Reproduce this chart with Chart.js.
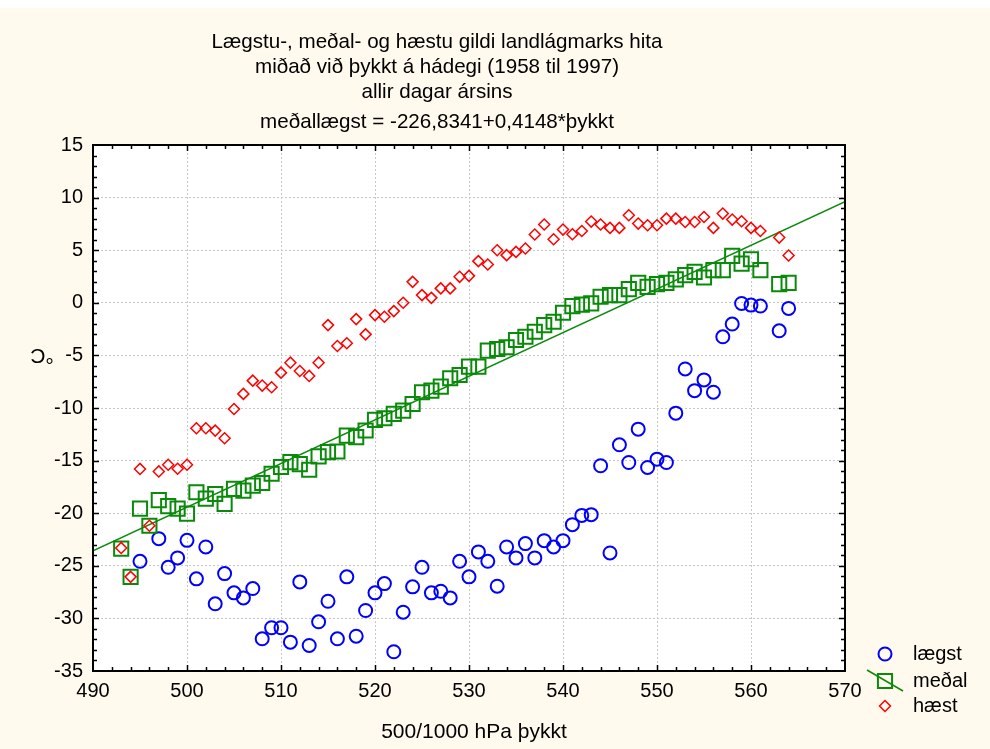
<!DOCTYPE html>
<html>
<head>
<meta charset="utf-8">
<script src="https://cdn.jsdelivr.net/npm/chart.js@4/dist/chart.umd.min.js"></script>
<style>
  body { margin: 0; background: #fff; }
  canvas { display: block; }
</style>
</head>
<body>
<canvas id="thickness-chart" width="990" height="749"></canvas>
<script>
// 500/1000 hPa þykkt (no 562)
const thickness = [493, 494, 495, 496, 497, 498, 499, 500, 501, 502, 503, 504, 505, 506, 507, 508, 509, 510,
    511, 512, 513, 514, 515, 516, 517, 518, 519, 520, 521, 522, 523, 524, 525, 526, 527, 528, 529, 530,
    531, 532, 533, 534, 535, 536, 537, 538, 539, 540, 541, 542, 543, 544, 545, 546, 547, 548, 549, 550,
    551, 552, 553, 554, 555, 556, 557, 558, 559, 560, 561, 563, 564];

const lowest = [null, null, -24.57, null, -22.42, -25.14, -24.25, -22.58, -26.24, -23.21, -28.61, -25.74, -27.57, -28.05, -27.16, -31.94, -30.89, -30.89,
    -32.26, -26.53, -32.57, -30.32, -28.37, -31.94, -26.05, -31.69, -29.25, -27.57, -26.69, -33.17, -29.41, -27.00, -25.14, -27.57, -27.42, -28.05, -24.57, -26.05,
    -23.68, -24.57, -26.94, -23.21, -24.25, -22.89, -24.25, -22.61, -23.21, -22.61, -21.09, -20.21, -20.14, -15.49, -23.78, -13.50, -15.18, -12.01, -15.65, -14.86,
    -15.18, -10.49, -6.29, -8.35, -7.33, -8.50, -3.23, -2.02, -0.06, -0.22, -0.31, -2.66, -0.53];

const mean = [-23.37, -26.05, -19.57, -21.19, -18.76, -19.33, -19.57, -20.04, -18.01, -18.61, -18.17, -19.12, -17.69, -17.86, -17.38, -17.13, -16.25, -15.61,
    -15.14, -15.33, -15.87, -14.60, -14.19, -14.14, -12.62, -12.77, -12.14, -11.13, -10.97, -10.56, -10.25, -9.62, -8.50, -8.35, -7.97, -7.17, -6.86, -6.07,
    -6.07, -4.55, -4.39, -4.23, -3.54, -3.23, -2.75, -2.12, -1.80, -0.95, -0.31, -0.17, -0.06, 0.57, 0.73, 0.73, 1.30, 1.90, 1.52, 1.77,
    1.90, 2.22, 2.63, 2.94, 2.41, 3.10, 3.10, 4.46, 3.73, 4.14, 3.10, 1.77, 1.90];

const highest = [-23.30, -26.05, -15.79, -21.19, -16.03, -15.40, -15.78, -15.40, -11.92, -11.92, -12.15, -12.87, -10.10, -8.66, -7.40, -7.87, -8.03, -6.64,
    -5.69, -6.48, -6.95, -5.69, -2.12, -4.11, -3.85, -1.55, -3.00, -1.17, -1.33, -0.79, 0.00, 1.99, 0.73, 0.47, 1.37, 1.37, 2.47, 2.56,
    3.96, 3.64, 5.00, 4.53, 4.84, 5.16, 6.49, 7.44, 6.04, 6.96, 6.52, 6.83, 7.72, 7.44, 7.12, 7.12, 8.32, 7.53, 7.37, 7.37,
    8.00, 8.00, 7.68, 7.68, 8.16, 7.12, 8.48, 7.91, 7.75, 7.12, 6.83, 6.20, 4.50];

// meðallægst = -226,8341+0,4148*þykkt
const fitIntercept = -226.8341;
const fitSlope = 0.4148;

const xRange = [490, 570];
const yRange = [-35, 15];

const titleLines = [
    'Lægstu-, meðal- og hæstu gildi landlágmarks hita',
    'miðað við þykkt á hádegi (1958 til 1997)',
    'allir dagar ársins'
];
const equationText = 'meðallægst = -226,8341+0,4148*þykkt';
const xTitle = '500/1000 hPa þykkt';
const yTitle = '°C';
const seriesNames = ['lægst', 'meðal', 'hæst'];

const FONT = "'Liberation Sans', Arial, sans-serif";
const BLUE = '#0000ff';
const GREEN = '#0a8a0a';
const RED = '#ff0000';

const toPoints = (ys) => thickness.map((x, i) => ({ x: x, y: ys[i] }));

const decorations = {
    id: 'decorations',
    beforeDraw(chart) {
        const c = chart.ctx;
        const a = chart.chartArea;
        c.save();
        c.fillStyle = '#ffffff';
        c.fillRect(0, 0, chart.width, chart.height);
        c.fillStyle = '#fff9ee';
        c.fillRect(0, 8, chart.width, chart.height - 8);
        c.fillStyle = '#ffffff';
        c.fillRect(a.left, a.top, a.right - a.left, a.bottom - a.top);
        c.restore();
    },
    afterDraw(chart) {
        const c = chart.ctx;
        const a = chart.chartArea;
        const xs = chart.scales.x;
        const ys = chart.scales.y;
        c.save();

        // frame with inward ticks
        c.strokeStyle = '#000';
        c.lineWidth = 1.5;
        for (let v = xRange[0] + 2; v < xRange[1]; v += 2) {
            const px = Math.round(xs.getPixelForValue(v)) + 0.5;
            const len = v % 10 === 0 ? 6 : 4;
            c.beginPath();
            c.moveTo(px, a.bottom); c.lineTo(px, a.bottom - len);
            c.moveTo(px, a.top); c.lineTo(px, a.top + len);
            c.stroke();
        }
        for (let v = yRange[0] + 1; v < yRange[1]; v += 1) {
            const py = Math.round(ys.getPixelForValue(v)) + 0.5;
            const len = v % 5 === 0 ? 6 : 4;
            c.beginPath();
            c.moveTo(a.left, py); c.lineTo(a.left + len, py);
            c.moveTo(a.right, py); c.lineTo(a.right - len, py);
            c.stroke();
        }
        c.lineWidth = 2;
        c.strokeRect(a.left, a.top, a.right - a.left, a.bottom - a.top);

        // titles
        c.fillStyle = '#000';
        c.textAlign = 'center';
        c.textBaseline = 'middle';
        c.font = '20.6px ' + FONT;
        titleLines.forEach((t, i) => c.fillText(t, 437, 42 + i * 25));
        c.fillText(equationText, 437, 122);

        c.font = '21px ' + FONT;
        c.fillText(xTitle, 474, 732);
        // the y title is printed upside down in the original
        c.save();
        c.translate(42, 355);
        c.rotate(Math.PI);
        c.fillText(yTitle, 0, 0);
        c.restore();

        // legend
        const lx = 885;
        const rows = [654, 681, 706];
        c.textAlign = 'left';
        c.font = '20px ' + FONT;
        c.strokeStyle = GREEN;
        c.lineWidth = 1.5;
        c.beginPath();
        c.moveTo(867, 670);
        c.lineTo(903, 691);
        c.stroke();
        const styles = [
            { pointStyle: 'circle', radius: 6.5, borderWidth: 2, color: BLUE },
            { pointStyle: 'rect', radius: 10, borderWidth: 2, color: GREEN },
            { pointStyle: 'rectRot', radius: 5.5, borderWidth: 1.5, color: RED }
        ];
        styles.forEach((s, i) => {
            c.strokeStyle = s.color;
            c.fillStyle = 'rgba(0,0,0,0)';
            c.lineWidth = s.borderWidth;
            Chart.helpers.drawPoint(c, { pointStyle: s.pointStyle, radius: s.radius, rotation: 0, borderWidth: s.borderWidth }, lx, rows[i]);
            c.fillStyle = '#000';
            c.fillText(seriesNames[i], 913, rows[i]);
        });
        c.restore();
    }
};

const ctx = document.getElementById('thickness-chart').getContext('2d');
const thicknessChart = new Chart(ctx, {
    type: 'scatter',
    data: {
        datasets: [
            {
                label: 'fit',
                type: 'line',
                data: xRange.map(x => ({ x: x, y: fitIntercept + fitSlope * x })),
                borderColor: GREEN,
                borderWidth: 1.5,
                pointRadius: 0,
                order: 4
            },
            {
                label: seriesNames[0],
                data: toPoints(lowest),
                pointStyle: 'circle',
                pointRadius: 6.5,
                pointBorderWidth: 2,
                borderColor: BLUE,
                backgroundColor: 'rgba(0,0,0,0)',
                order: 3
            },
            {
                label: seriesNames[1],
                data: toPoints(mean),
                pointStyle: 'rect',
                pointRadius: 10,
                pointBorderWidth: 2,
                borderColor: GREEN,
                backgroundColor: 'rgba(0,0,0,0)',
                order: 2
            },
            {
                label: seriesNames[2],
                data: toPoints(highest),
                pointStyle: 'rectRot',
                pointRadius: 5.5,
                pointBorderWidth: 1.5,
                borderColor: RED,
                backgroundColor: 'rgba(0,0,0,0)',
                order: 1
            }
        ]
    },
    options: {
        responsive: false,
        animation: false,
        layout: {
            padding: { top: 145, right: 145, left: 0, bottom: 0 }
        },
        plugins: {
            legend: { display: false },
            tooltip: { enabled: false }
        },
        scales: {
            x: {
                min: xRange[0],
                max: xRange[1],
                afterFit: (scale) => { scale.height = 78; },
                ticks: {
                    stepSize: 10,
                    color: '#000',
                    padding: 8,
                    maxRotation: 0,
                    font: { family: FONT, size: 20 }
                },
                grid: { color: '#c8c8c8', lineWidth: 1, drawTicks: false },
                border: { display: false, dash: [2, 2] }
            },
            y: {
                min: yRange[0],
                max: yRange[1],
                afterFit: (scale) => { scale.width = 93; },
                ticks: {
                    stepSize: 5,
                    color: '#000',
                    padding: 10,
                    font: { family: FONT, size: 20 }
                },
                grid: { color: '#c8c8c8', lineWidth: 1, drawTicks: false },
                border: { display: false, dash: [2, 2] }
            }
        }
    },
    plugins: [decorations]
});
</script>
</body>
</html>
